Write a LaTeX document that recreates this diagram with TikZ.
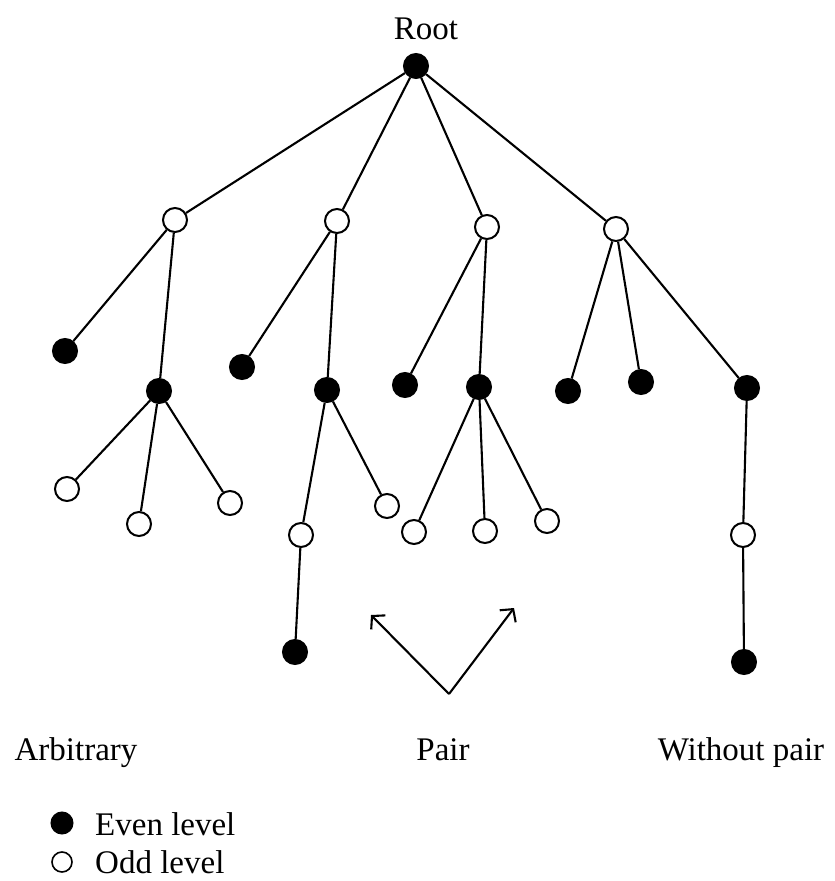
\documentclass[tikz,border=0pt]{standalone}
\usepackage{fontspec}
\setmainfont{Liberation Serif}
\usetikzlibrary{arrows.meta}
\begin{document}
\begin{tikzpicture}[x=1pt,y=-1pt,
  even/.style={circle,fill=black,draw=black,line width=2pt,minimum size=24pt,inner sep=0pt},
  odd/.style={circle,fill=white,draw=black,line width=2pt,minimum size=24pt,inner sep=0pt},
  edge/.style={line width=2.1pt},
  pairarrow/.style={line width=2.1pt,-{Straight Barb[length=9pt,width=20pt,line width=2.1pt]}},
  lbl/.style={font=\fontsize{33}{40}\selectfont,inner sep=0pt,anchor=base},
  legtext/.style={font=\fontsize{33}{40}\selectfont,inner sep=0pt,anchor=base west}]
\useasboundingbox (0,0) rectangle (835,881);

% tree nodes
\node[even] (r) at (416,66) {};
\node[odd] (a) at (175,220) {};
\node[odd] (b) at (337,221) {};
\node[odd] (c) at (487,227) {};
\node[odd] (d) at (616,229) {};
\node[even] (a1) at (65,351) {};
\node[even] (a2) at (159,391) {};
\node[even] (b1) at (242,367) {};
\node[even] (b2) at (327,390) {};
\node[even] (c1) at (405,385) {};
\node[even] (c2) at (479,387) {};
\node[even] (d1) at (568,391) {};
\node[even] (d2) at (641,382) {};
\node[even] (d3) at (747,388) {};
\node[odd] (a21) at (67,489) {};
\node[odd] (a22) at (139,524) {};
\node[odd] (a23) at (230,503) {};
\node[odd] (b21) at (301,535) {};
\node[odd] (b22) at (387,506) {};
\node[odd] (c21) at (414,532) {};
\node[odd] (c22) at (485,531) {};
\node[odd] (c23) at (547,521) {};
\node[odd] (d31) at (743,535) {};
\node[even] (b211) at (295,652) {};
\node[even] (d311) at (744,662) {};

% edges
\foreach \u/\v in {r/a,r/b,r/c,r/d,a/a1,a/a2,b/b1,b/b2,c/c1,c/c2,d/d1,d/d2,d/d3,
  a2/a21,a2/a22,a2/a23,b2/b21,b2/b22,c2/c21,c2/c22,c2/c23,d3/d31,b21/b211,d31/d311}
  \draw[edge] (\u) -- (\v);

% labels
\node[lbl] (root) at (426,39) {Root};
\node[lbl] (arb) at (76,760) {Arbitrary};
\node[lbl] (pair) at (443,760) {Pair};
\node[lbl] (wop) at (741,760) {Without pair};

% pair arrows
\coordinate (v) at (449,694);
\coordinate (pl) at (371,615);
\coordinate (pr) at (514,608);
\draw[pairarrow] (v) -- (pl);
\draw[pairarrow] (v) -- (pr);

% legend
\node[even,minimum size=21pt] (le) at (62,823) {};
\node[odd,minimum size=20pt,line width=1.6pt] (lo) at (62,862) {};
\node[legtext] (tle) at (95,835) {Even level};
\node[legtext] (tlo) at (95,873) {Odd level};
\end{tikzpicture}
\end{document}
